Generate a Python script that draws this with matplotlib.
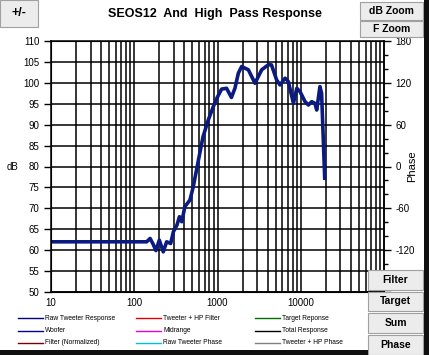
import numpy as np
import matplotlib.pyplot as plt
from matplotlib.patches import Rectangle
from matplotlib.ticker import FixedLocator, NullFormatter

plt.rcParams['font.family'] = ['Liberation Sans', 'DejaVu Sans']
plt.rcParams['axes.unicode_minus'] = False

# Raw tweeter response
freq = [10, 141, 155, 168, 182, 200, 223, 245, 274, 295, 326, 349, 372, 406, 467,
        512, 560, 613, 670, 774, 890, 992, 1120, 1285, 1470, 1620, 1780, 1950,
        2350, 2820, 3390, 4070, 4450, 5130, 5630, 6480, 7100, 8170, 8960, 9800,
        11270, 12350, 13530, 14800, 15550, 17000, 17800, 19400]
spl = [62.0, 62.0, 62.8, 61.5, 59.9, 62.4, 59.6, 62.0, 61.6, 64.4, 66.0, 68.0,
       66.8, 70.4, 72.0, 75.2, 79.2, 83.2, 87.1, 91.1, 94.3, 96.5, 98.5, 98.7,
       96.5, 98.7, 102.3, 103.9, 103.1, 99.9, 103.1, 104.3, 104.3, 100.7, 99.5,
       101.1, 100.3, 95.1, 98.7, 97.9, 95.5, 94.7, 95.5, 95.1, 93.5, 99.1, 97.5,
       77.2]

phase_ticks = [-180, -120, -60, 0, 60, 120, 180]
phase_labels = ['', '-120', '-60', '0', '60', '120', '180']

legend_labels = [
    ['Raw Tweeter Response', 'Tweeter + HP Filter', 'Target Reponse'],
    ['Woofer', 'Midrange', 'Total Response'],
    ['Filter (Normalized)', 'Raw Tweeter Phase', 'Tweeter + HP Phase'],
]
legend_colors = [
    ['#000080', '#e00000', '#007000'],
    ['#0000a0', '#e000e0', '#000000'],
    ['#800000', '#00c0e0', '#808080'],
]

W, H = 429, 355
fig = plt.figure(figsize=(W / 100, H / 100), dpi=100)
fig.patch.set_facecolor('white')

ax = fig.add_axes([51 / W, 1 - 292 / H, 333 / W, 251 / H])
ax.plot(freq, spl, color='#0a1a80', lw=2.6, solid_joinstyle='round', zorder=3)
ax.set_xscale('log')
ax.set_xlim(10, 100000)
ax.set_ylim(50, 110)
ax.set_yticks(np.arange(50, 111, 5))
ax.xaxis.set_major_locator(FixedLocator([10, 100, 1000, 10000]))
minors = [m * 10 ** d for d in range(1, 5) for m in range(2, 10)]
ax.xaxis.set_minor_locator(FixedLocator(minors))
ax.xaxis.set_minor_formatter(NullFormatter())
ax.set_xticklabels(['10', '100', '1000', '10000'])
ax.grid(True, which='both', axis='x', color='black', lw=1.1)
ax.grid(True, which='major', axis='y', color='black', lw=1.1)
ax.tick_params(axis='x', which='both', length=0, labelsize=7, pad=4)
ax.tick_params(axis='y', length=5, width=1, labelsize=7, direction='out')
for s in ax.spines.values():
    s.set_linewidth(1.1)
ax.set_ylabel('dB', rotation=0, fontsize=7, va='center', ha='center')
ax.yaxis.set_label_coords(-0.115, 0.5)

ax2 = ax.twinx()
ax2.set_ylim(-180, 180)
ax2.set_yticks(phase_ticks)
ax2.set_yticklabels(phase_labels)
ax2.set_yticks(np.arange(-180, 181, 20), minor=True)
ax2.tick_params(axis='y', length=5, width=1, labelsize=7)
ax2.tick_params(axis='y', which='minor', length=3, width=1)
ax2.set_ylabel('Phase', fontsize=8, va='center', ha='center')
ax2.yaxis.set_label_coords((412 - 51) / 333, 0.5)
ax2.spines['right'].set_linewidth(1.1)

fig.text(215 / W, 1 - 14 / H, 'SEOS12  And  High  Pass Response', ha='center', va='center',
         fontsize=9, fontweight='bold')

# legend rows
for r in range(3):
    yy = 1 - (318 + r * 12.5) / H
    for c in range(3):
        x0 = [18, 136, 255][c]
        fig.add_artist(plt.Line2D([x0 / W, (x0 + 25) / W], [yy, yy],
                                  color=legend_colors[r][c], lw=1.0))
        fig.text((x0 + 27) / W, yy, legend_labels[r][c], fontsize=4.8, va='center')


def button(x0, y0, x1, y1, label, fs=7.5):
    fig.add_artist(Rectangle((x0 / W, 1 - y1 / H), (x1 - x0) / W, (y1 - y0) / H,
                             facecolor='#ececec', edgecolor='#a0a0a0', lw=0.8, zorder=10))
    fig.text((x0 + x1) / 2 / W, 1 - (y0 + y1) / 2 / H, label, ha='center', va='center',
             fontsize=fs, fontweight='bold', zorder=11)


button(0, 0, 38, 27, '+/-', 9)
button(360, 2, 423, 20, 'dB Zoom')
button(360, 21, 423, 37, 'F Zoom')
button(368, 270, 423, 290, 'Filter')
button(368, 292, 423, 311, 'Target')
button(368, 313, 423, 333, 'Sum')
button(368, 335, 423, 355, 'Phase')

# dark frame edges
fig.add_artist(Rectangle((424 / W, 0), 5 / W, 1, facecolor='#101010', edgecolor='none', zorder=12))
fig.add_artist(Rectangle((0, 0), 368 / W, 5 / H, facecolor='#101010', edgecolor='none', zorder=12))

fig.savefig('out.png', dpi=100)
